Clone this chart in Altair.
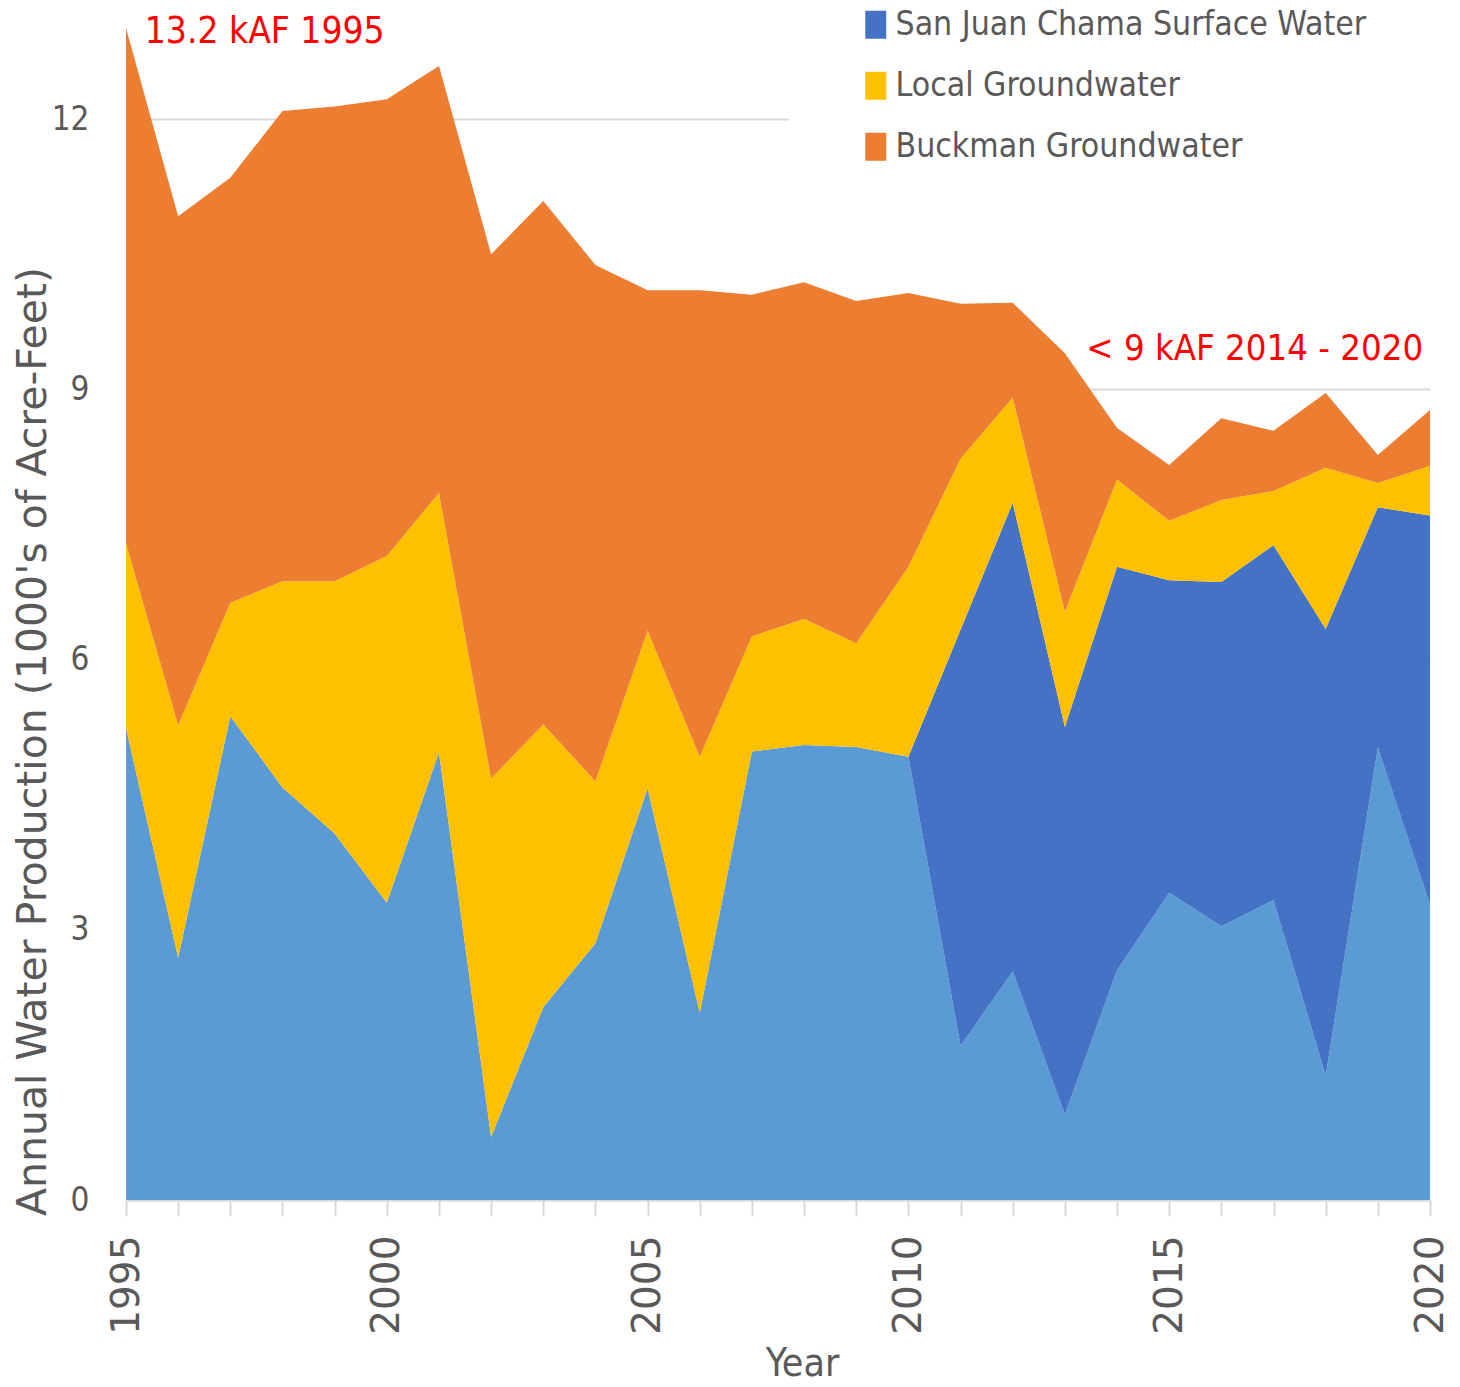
import altair as alt
import pandas as pd

# ---- data (thousands of acre-feet) ----
years = list(range(1995, 2021))
series_names = [
    "Santa Fe River Surface Water",
    "San Juan Chama Surface Water",
    "Local Groundwater",
    "Buckman Groundwater",
]
series_colors = ["#5B9BD5", "#4472C4", "#FFC000", "#ED7D31"]
legend_names = ["San Juan Chama Surface Water", "Local Groundwater", "Buckman Groundwater"]

santa_fe_river = [5.24, 2.69, 5.37, 4.58, 4.07, 3.30, 4.97, 0.70, 2.14, 2.85,
                  4.57, 2.08, 4.98, 5.05, 5.03, 4.92, 1.71, 2.54, 0.95, 2.55,
                  3.41, 3.04, 3.33, 1.38, 5.02, 3.28]
san_juan_chama = [0.0, 0.0, 0.0, 0.0, 0.0, 0.0, 0.0, 0.0, 0.0, 0.0,
                  0.0, 0.0, 0.0, 0.0, 0.0, 0.0, 4.62, 5.20, 4.30, 4.48,
                  3.47, 3.82, 3.94, 4.96, 2.67, 4.32]
local_gw = [2.05, 2.58, 1.26, 2.29, 2.80, 3.85, 2.88, 3.98, 3.14, 1.80,
            1.75, 2.84, 1.28, 1.40, 1.15, 2.11, 1.90, 1.17, 1.28, 0.97,
            0.66, 0.91, 0.60, 1.79, 0.27, 0.55]
buckman_gw = [5.72, 5.65, 4.72, 5.22, 5.27, 5.07, 4.74, 5.82, 5.81, 5.73,
              3.78, 5.18, 3.79, 3.74, 3.80, 3.04, 1.72, 1.05, 2.87, 0.57,
              0.62, 0.91, 0.67, 0.83, 0.31, 0.62]

y_ticks = [0, 3, 6, 9, 12]

ann_left_text = ["13.2 kAF 1995"]
ann_left_x = [1995.36]
ann_left_y = [12.97]
ann_right_text = ["< 9 kAF 2014 - 2020"]
ann_right_x = [2019.87]
ann_right_y = [9.45]

# ---- long table ----
rows = []
for rank, (name, vals) in enumerate(zip(series_names,
                                         [santa_fe_river, san_juan_chama, local_gw, buckman_gw])):
    for yr, v in zip(years, vals):
        rows.append({"Year": yr, "Value": v, "Source": name, "Rank": rank})
df = pd.DataFrame(rows)

ann_left = pd.DataFrame({"Year": ann_left_x, "Value": ann_left_y, "Label": ann_left_text})
ann_right = pd.DataFrame({"Year": ann_right_x, "Value": ann_right_y, "Label": ann_right_text})

NARROW = "DejaVu Sans Condensed, Liberation Sans Narrow, sans-serif"
WIDE = "DejaVu Sans, Verdana, sans-serif"
GRAY = "#595959"
LIGHT = "#D9D9D9"

x_scale = alt.Scale(domain=[1995, 2020], nice=False, zero=False)
y_scale = alt.Scale(domain=[0, 13.2], nice=False)

area = alt.Chart(df).mark_area(interpolate="linear").encode(
    x=alt.X(
        "Year:Q",
        scale=x_scale,
        axis=alt.Axis(
            title="Year",
            values=years,
            format="d",
            labelExpr="datum.value % 5 == 0 ? datum.label : ''",
            labelAngle=270,
            labelAlign="right",
            labelBaseline="middle",
            labelFont=WIDE,
            labelFontSize=39,
            labelColor=GRAY,
            labelPadding=19,
            labelOverlap=False,
            labelFlush=False,
            grid=False,
            domain=True,
            domainColor=LIGHT,
            domainWidth=2,
            ticks=True,
            tickColor=LIGHT,
            tickWidth=2,
            tickSize=16,
            titleFont=NARROW,
            titleFontSize=39,
            titleFontWeight="normal",
            titleColor=GRAY,
            titleX=676,
            titleY=163,
            titleAlign="center",
            titleBaseline="middle",
        ),
    ),
    y=alt.Y(
        "Value:Q",
        stack="zero",
        scale=y_scale,
        axis=alt.Axis(
            title="Annual Water Production (1000's of Acre-Feet)",
            values=y_ticks,
            format="d",
            labelFont=NARROW,
            labelFontSize=33,
            labelColor=GRAY,
            labelPadding=37,
            ticks=False,
            domain=False,
            grid=True,
            gridColor=LIGHT,
            gridWidth=2,
            titleFont=WIDE,
            titleFontSize=41,
            titleFontWeight="normal",
            titleColor=GRAY,
            titleAngle=270,
            titleX=-93,
            titleY=730,
            titleAlign="center",
            titleBaseline="middle",
        ),
    ),
    color=alt.Color(
        "Source:N",
        scale=alt.Scale(domain=series_names, range=series_colors),
        legend=alt.Legend(
            values=legend_names,
            title=None,
            orient="none",
            legendX=663,
            legendY=-73,
            fillColor="white",
            padding=70,
            symbolType="M-0.75,-1H0.75V1H-0.75Z",
            symbolSize=784,
            symbolStrokeWidth=0,
            symbolOpacity=1,
            labelFont=NARROW,
            labelFontSize=33.5,
            labelColor=GRAY,
            labelOffset=3,
            labelLimit=1000,
            rowPadding=26,
        ),
    ),
    order=alt.Order("Rank:Q", sort="ascending"),
)

txt_left = alt.Chart(ann_left).mark_text(
    align="left", baseline="middle", font=NARROW, fontSize=36.8, color="#FF0000"
).encode(
    x=alt.X("Year:Q", scale=x_scale),
    y=alt.Y("Value:Q", scale=y_scale),
    text="Label:N",
)

txt_right = alt.Chart(ann_right).mark_text(
    align="right", baseline="middle", font=NARROW, fontSize=36.2, color="#FF0000"
).encode(
    x=alt.X("Year:Q", scale=x_scale),
    y=alt.Y("Value:Q", scale=y_scale),
    text="Label:N",
)

chart = alt.layer(area, txt_left, txt_right).properties(
    width=1304,
    height=1189,
    autosize=alt.AutoSizeParams(type="none"),
    padding={"left": 118, "top": 3, "right": 22, "bottom": 186},
    background="white",
).configure_view(stroke=None)

chart.save("out.html", embed_options={"renderer": "svg", "actions": False})
